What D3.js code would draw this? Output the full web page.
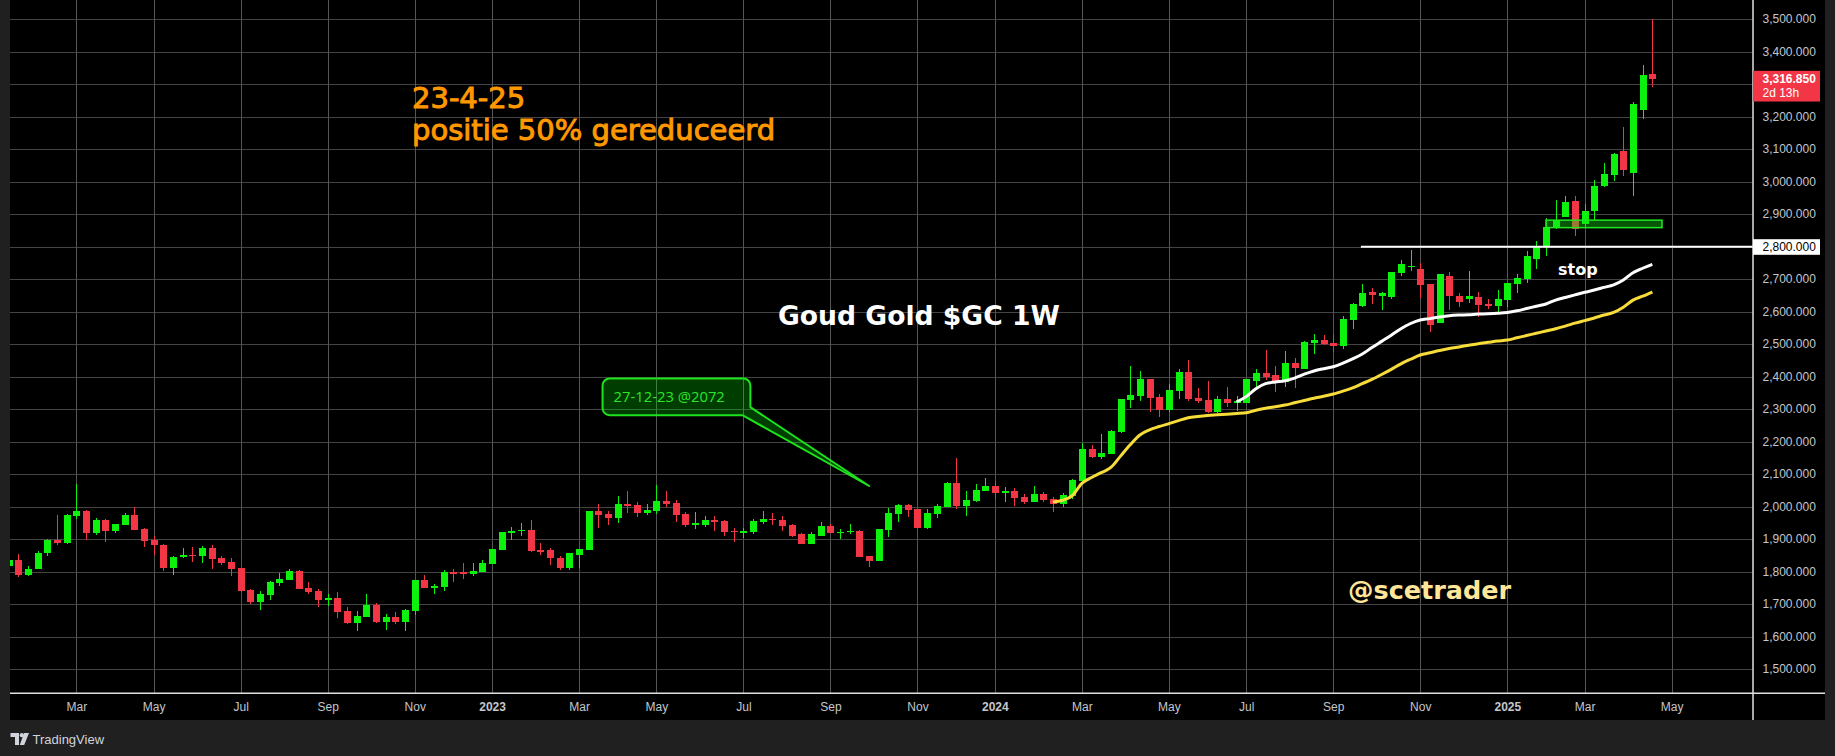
<!DOCTYPE html>
<html><head><meta charset="utf-8">
<script src="https://cdn.jsdelivr.net/npm/d3@7"></script>
<style>
html,body{margin:0;padding:0;background:#202020;overflow:hidden}
svg{display:block}
</style></head><body>
<svg id="c" width="1835" height="756"></svg>
<script>
// ---------- DATA ----------
const firstWeek = "2022-01-17";   // weekly bars (Monday)
// [open, high, low, close]
const candles2022 = [
 [1817,1842,1810,1835],[1835,1856,1784,1790],[1790,1817,1786,1810],
 [1808,1865,1808,1859],[1857,1902,1848,1899],[1899,1976,1882,1888],[1888,1978,1886,1976],
 [1971,2071,1962,1988],[1988,1990,1897,1919],[1919,1966,1912,1960],[1960,1962,1891,1925],
 [1925,1948,1919,1948],[1945,1982,1943,1976],[1976,2000,1928,1930],[1933,1936,1876,1896],
 [1899,1911,1853,1882],[1884,1887,1802,1812],[1812,1850,1790,1847],[1845,1872,1842,1853],[1853,1875,1830,1851],
 [1850,1878,1827,1872],[1872,1881,1808,1839],[1841,1849,1821,1827],[1829,1841,1787,1808],
 [1811,1812,1738,1741],[1743,1746,1700,1706],[1706,1740,1682,1731],[1729,1771,1712,1768],
 [1766,1795,1755,1777],[1774,1810,1774,1804],[1804,1805,1746,1746],[1749,1768,1731,1737],[1740,1746,1691,1712],
 [1712,1731,1694,1719],[1719,1737,1657,1676],[1679,1691,1640,1642],[1642,1679,1618,1664],
 [1660,1731,1660,1697],[1697,1703,1642,1645],[1645,1670,1621,1660],[1660,1676,1639,1645],[1645,1685,1618,1682],
 [1679,1774,1667,1774],[1774,1789,1749,1749],[1753,1761,1731,1755],[1752,1807,1740,1798],
 [1798,1810,1768,1796],[1798,1826,1777,1792],[1792,1826,1786,1801],[1798,1835,1798,1826]
];
const candles2023 = [
 [1823,1869,1823,1869],[1866,1924,1866,1921],[1919,1939,1899,1927],[1927,1951,1911,1930],[1930,1960,1862,1863],
 [1867,1890,1853,1864],[1866,1872,1820,1841],[1844,1850,1807,1811],[1811,1857,1807,1857],
 [1853,1869,1811,1869],[1866,1988,1866,1988],[1988,2009,1936,1976],[1979,1988,1945,1967],
 [1967,2034,1951,2009],[2009,2049,1982,2003],[2006,2016,1970,1982],[1982,2009,1976,1991],
 [1988,2068,1979,2019],[2019,2049,2000,2009],[2012,2022,1954,1976],[1979,1985,1939,1945],[1948,1985,1933,1950],
 [1945,1973,1939,1960],[1960,1973,1927,1954],[1957,1960,1911,1921],[1926,1936,1893,1923],
 [1918,1936,1905,1927],[1924,1964,1915,1957],[1954,1988,1948,1964],[1964,1982,1945,1962],[1960,1973,1927,1942],
 [1945,1948,1908,1911],[1915,1918,1887,1887],[1887,1924,1887,1915],[1911,1954,1911,1942],
 [1942,1948,1918,1918],[1921,1933,1902,1924],[1924,1948,1915,1927],[1927,1930,1847,1847],
 [1850,1850,1814,1832],[1832,1933,1832,1933],[1930,1997,1908,1981],[1978,2009,1954,2006],[2005,2009,1969,1991],
 [1993,1993,1935,1935],[1935,1993,1932,1980],[1978,2008,1966,2002],[2000,2076,2000,2073],
 [2073,2150,1994,2003],[2003,2048,1972,2020],[2019,2070,2015,2051],[2049,2088,2049,2064]
];
const candles2024 = [
 [2064,2079,2025,2043],[2043,2061,2015,2048],[2048,2057,2003,2028],[2030,2039,2009,2015],[2015,2064,2015,2039],
 [2039,2045,2015,2021],[2024,2030,1984,2009],[2009,2042,2000,2036],[2034,2085,2025,2082],
 [2080,2196,2080,2178],[2178,2190,2150,2153],[2153,2224,2147,2165],[2162,2236,2162,2233],
 [2231,2332,2227,2332],[2329,2433,2304,2344],[2341,2418,2326,2393],[2393,2393,2292,2335],[2338,2347,2276,2298],
 [2298,2378,2292,2360],[2356,2424,2332,2415],[2415,2452,2326,2332],[2335,2366,2320,2326],
 [2329,2387,2289,2292],[2292,2341,2289,2332],[2332,2369,2307,2320],[2320,2341,2295,2326],
 [2320,2393,2320,2393],[2387,2424,2360,2412],[2412,2483,2390,2400],[2406,2433,2353,2384],[2384,2480,2369,2443],
 [2443,2458,2366,2427],[2424,2510,2424,2507],[2504,2532,2470,2513],[2513,2529,2498,2501],
 [2504,2532,2476,2495],[2495,2587,2486,2578],[2575,2628,2547,2624],[2618,2686,2615,2658],[2661,2673,2624,2652],
 [2649,2661,2606,2658],[2646,2723,2640,2723],[2720,2760,2710,2747],[2738,2790,2726,2741],
 [2732,2751,2643,2683],[2686,2686,2538,2560],[2566,2716,2566,2716],[2710,2723,2606,2649],
 [2649,2658,2615,2630],[2640,2726,2627,2649],[2647,2662,2583,2620],[2624,2639,2608,2622],[2617,2667,2596,2639]
];
const candles2025 = [
 [2636,2688,2614,2688],[2685,2716,2657,2704],[2700,2787,2688,2771],[2762,2818,2731,2799],
 [2799,2888,2771,2861],[2862,2944,2855,2882],[2892,2956,2892,2938],[2941,2956,2833,2854],
 [2870,2932,2858,2910],[2910,3005,2882,2987],[2987,3058,2984,3024],[3021,3089,3002,3085],[3095,3169,3018,3036],
 [3027,3246,2956,3239],[3221,3359,3193,3329],[3332,3501,3292,3316.85]
];
// slow average (yellow), weekly from this date
const yellowStart = "2024-02-12";
const yellowMA = [2015,2020,2034,2072,2090,2105,2121,2156,2191,2221,2237,2247,2256,2265,2274,2278,2281,2283,2285,2287,
 2289.5,2297,2303,2308,2313,2320,2327,2334,2340,2347,2356,2366,2379,2392,2407,2423,2440,2454,2467,2474,2481,2487,2492,
 2497,2502,2506,2510,2513,2520,2527,2534,2541,2548,2556,2565,2573,2581,2590,2598,2614,2636,2648,2661];
// fast average (white)
const whiteStart = "2024-06-24";
const whiteMA = [2323,2339,2363,2379,2384,2388,2396,2408,2418,2425,2431,2442,2455,2470,2490,2509,2528,2548,2564,2575,
 2579,2584,2588,2590,2591,2593,2594,2595.5,2598,2603,2610,2617,2624,2636,2644,2652,2660,2667,2675,2683,2698,2720,2734,2746];

const priceTicks = [1500,1600,1700,1800,1900,2000,2100,2200,2300,2400,2500,2600,2700,2800,2900,3000,3100,3200,3300,3400,3500];
const monthTicks = ["2022-03-07","2022-05-02","2022-07-04","2022-09-05","2022-11-07","2023-01-02","2023-03-06","2023-05-01",
 "2023-07-03","2023-09-04","2023-11-06","2024-01-01","2024-03-04","2024-05-06","2024-07-01","2024-09-02","2024-11-04",
 "2025-01-06","2025-03-03","2025-05-05"];
const monthLabels = ["Mar","May","Jul","Sep","Nov","2023","Mar","May","Jul","Sep","Nov","2024","Mar","May","Jul","Sep","Nov","2025","Mar","May"];

const lastPrice = 3316.85, stopLevel = 2800, zoneTop = 2882, zoneBottom = 2859;

// ---------- CHART ----------
const svg = d3.select("#c");
const parse = d3.utcParse("%Y-%m-%d");
const PL = 10, PR = 1753, PT = 0, PB = 693.3, AXR = 1825, AXB = 720;

const x = d3.scaleUtc().domain([parse("2022-03-07"), parse("2025-01-06")]).range([76.3, 1507.3]);
const y = d3.scaleLinear().domain([1500, 3500]).range([669.3, 19.3]);

const allC = [].concat(candles2022, candles2023, candles2024, candles2025);
const data = allC.map((c, i) => ({date: d3.utcMonday.offset(parse(firstWeek), i), o: c[0], h: c[1], l: c[2], c: c[3]}));

// backgrounds
svg.append("rect").attr("x", 0).attr("y", 0).attr("width", 1835).attr("height", 756).attr("fill", "#202020");
svg.append("rect").attr("x", PL).attr("y", 0).attr("width", AXR - PL).attr("height", AXB).attr("fill", "#000");

const defs = svg.append("defs");
defs.append("clipPath").attr("id", "plot").append("rect").attr("x", PL).attr("y", PT).attr("width", PR - PL).attr("height", PB - PT);

// grid
const grid = svg.append("g");
grid.selectAll("line.h").data(priceTicks).join("line")
  .attr("x1", PL).attr("x2", PR).attr("y1", d => Math.round(y(d)) + 0.5).attr("y2", d => Math.round(y(d)) + 0.5)
  .attr("stroke", "#444").attr("stroke-width", 1);
grid.selectAll("line.v").data(monthTicks).join("line")
  .attr("x1", d => Math.round(x(parse(d))) + 0.5).attr("x2", d => Math.round(x(parse(d))) + 0.5)
  .attr("y1", PT).attr("y2", PB).attr("stroke", "#555").attr("stroke-width", 1);

const plot = svg.append("g").attr("clip-path", "url(#plot)");

// candles
const up = "#0cf20c", down = "#f23645";
const cg = plot.append("g").attr("shape-rendering", "crispEdges");
cg.selectAll("line").data(data).join("line")
  .attr("x1", d => Math.round(x(d.date)) + 0.5).attr("x2", d => Math.round(x(d.date)) + 0.5)
  .attr("y1", d => y(d.h)).attr("y2", d => y(d.l))
  .attr("stroke", d => d.c >= d.o ? up : down).attr("stroke-width", 1);
cg.selectAll("rect").data(data).join("rect")
  .attr("x", d => Math.round(x(d.date)) - 3).attr("width", 7)
  .attr("y", d => y(Math.max(d.o, d.c)))
  .attr("height", d => Math.max(1.5, Math.abs(y(d.o) - y(d.c))))
  .attr("fill", d => d.c >= d.o ? up : down);

// moving averages
const maLine = start => d3.line().x((v, i) => x(d3.utcMonday.offset(parse(start), i))).y(v => y(v)).curve(d3.curveMonotoneX);
plot.append("path").attr("d", maLine(yellowStart)(yellowMA)).attr("fill", "none").attr("stroke", "#f7dc3a").attr("stroke-width", 3).attr("stroke-linejoin", "round");
plot.append("path").attr("d", maLine(whiteStart)(whiteMA)).attr("fill", "none").attr("stroke", "#ffffff").attr("stroke-width", 3).attr("stroke-linejoin", "round");

// support zone
plot.append("rect")
  .attr("x", x(parse("2025-02-03"))).attr("width", x(parse("2025-04-28")) - x(parse("2025-02-03")))
  .attr("y", y(zoneTop)).attr("height", y(zoneBottom) - y(zoneTop))
  .attr("fill", "rgba(20,230,20,0.38)").attr("stroke", "#1ee81e").attr("stroke-width", 1.5);

// stop horizontal line
plot.append("line").attr("x1", x(parse("2024-09-22"))).attr("x2", PR)
  .attr("y1", y(stopLevel)).attr("y2", y(stopLevel)).attr("stroke", "#fff").attr("stroke-width", 2);

// callout
{
  const L = x(parse("2023-03-23")), R = x(parse("2023-07-08")), T = y(2395), B = y(2282), r = 7;
  const tx = x(parse("2023-10-02")), ty = y(2064);
  const p = d3.path();
  p.moveTo(L + r, T); p.lineTo(R - r, T); p.arcTo(R, T, R, T + r, r);
  p.lineTo(R, B - 8); p.lineTo(tx, ty); p.lineTo(R - 8, B);
  p.lineTo(L + r, B); p.arcTo(L, B, L, B - r, r); p.lineTo(L, T + r); p.arcTo(L, T, L + r, T, r); p.closePath();
  plot.append("path").attr("d", p.toString()).attr("fill", "rgba(0,255,0,0.24)").attr("stroke", "#1de31d").attr("stroke-width", 2).attr("stroke-linejoin", "round");
  plot.append("text").attr("x", L + 11).attr("y", T + 23.4).text("27-12-23 @2072")
    .attr("font-family", "Open Sans").attr("font-size", 14.8).attr("fill", "#2be42b");
}

// texts
const tg = svg.append("g").attr("font-family", "DejaVu Sans");
tg.append("text").attr("x", 412).attr("y", 107.7).text("23-4-25").attr("font-size", 29).attr("fill", "#ff9800")
  .attr("stroke", "#ff9800").attr("stroke-width", 1).attr("paint-order", "stroke");
tg.append("text").attr("x", 412).attr("y", 140).text("positie 50% gereduceerd").attr("font-size", 29).attr("fill", "#ff9800")
  .attr("stroke", "#ff9800").attr("stroke-width", 1).attr("paint-order", "stroke");
tg.append("text").attr("x", 778).attr("y", 325).text("Goud Gold $GC 1W").attr("font-size", 26.6).attr("font-weight", "bold").attr("fill", "#fff");
tg.append("text").attr("x", 1348).attr("y", 599).text("@scetrader").attr("font-size", 25.5).attr("font-weight", "bold").attr("fill", "#ffe699");
tg.append("text").attr("x", 1558).attr("y", 275).text("stop").attr("font-size", 16).attr("font-weight", "bold").attr("fill", "#fff");

// axes frame lines
svg.append("line").attr("x1", PL).attr("x2", AXR).attr("y1", PB).attr("y2", PB).attr("stroke", "#e0e0e0").attr("stroke-width", 1.5);
svg.append("line").attr("x1", PR).attr("x2", PR).attr("y1", 0).attr("y2", AXB).attr("stroke", "#e0e0e0").attr("stroke-width", 1.5);

// y axis (levels covered by the marker boxes are left to the boxes)
const fmt = d3.format(",.3f");
const ya = svg.append("g").attr("transform", `translate(${PR},0)`)
  .call(d3.axisRight(y).tickValues(priceTicks.filter(v => v !== stopLevel && Math.abs(v - lastPrice) > 40))
    .tickFormat(fmt).tickSize(0).tickPadding(9.5));
ya.select(".domain").remove();
ya.selectAll("text").attr("font-family", "Liberation Sans").attr("font-size", 12).attr("fill", "#c4c6cc").attr("dy", "0.28em");

// x axis
const xa = svg.append("g").attr("transform", `translate(0,${PB})`)
  .call(d3.axisBottom(x).tickValues(monthTicks.map(parse)).tickFormat((d, i) => monthLabels[i]).tickSize(0).tickPadding(9.5));
xa.select(".domain").remove();
xa.selectAll("text").attr("font-family", "Liberation Sans").attr("font-size", 12).attr("fill", "#c4c6cc")
  .attr("font-weight", (d, i) => /^\d{4}$/.test(monthLabels[i]) ? "bold" : "normal");

// stop level label on axis
svg.append("rect").attr("x", PR).attr("y", y(stopLevel) - 7.6).attr("width", 67).attr("height", 15.6).attr("fill", "#fff");
svg.append("text").attr("x", PR + 9.5).attr("y", y(stopLevel)).attr("dy", "0.35em").text(fmt(stopLevel))
  .attr("font-family", "Liberation Sans").attr("font-size", 12).attr("fill", "#000");

// last price label
svg.append("rect").attr("x", PR).attr("y", y(lastPrice) - 8).attr("width", 67).attr("height", 30.7).attr("fill", "#f23645");
svg.append("text").attr("x", PR + 9.5).attr("y", y(lastPrice) + 4.3).text(fmt(lastPrice))
  .attr("font-family", "Liberation Sans").attr("font-size", 12).attr("font-weight", "bold").attr("fill", "#fff");
svg.append("text").attr("x", PR + 9.5).attr("y", y(lastPrice) + 17.8).text("2d 13h")
  .attr("font-family", "Liberation Sans").attr("font-size", 12).attr("fill", "#fff");

// TradingView watermark
const tv = svg.append("g").attr("fill", "#d1d4dc");
tv.append("path").attr("d", "M10.5,733 H19 V745 H15 V737 H10.5 Z");
tv.append("circle").attr("cx", 21.8).attr("cy", 735.2).attr("r", 2.1);
tv.append("path").attr("d", "M24,733 H29 L24.2,745 H19.8 Z");
tv.append("text").attr("x", 32.5).attr("y", 744).text("TradingView").attr("font-family", "Liberation Sans").attr("font-size", 13).attr("fill", "#d1d4dc");
</script>
</body></html>
